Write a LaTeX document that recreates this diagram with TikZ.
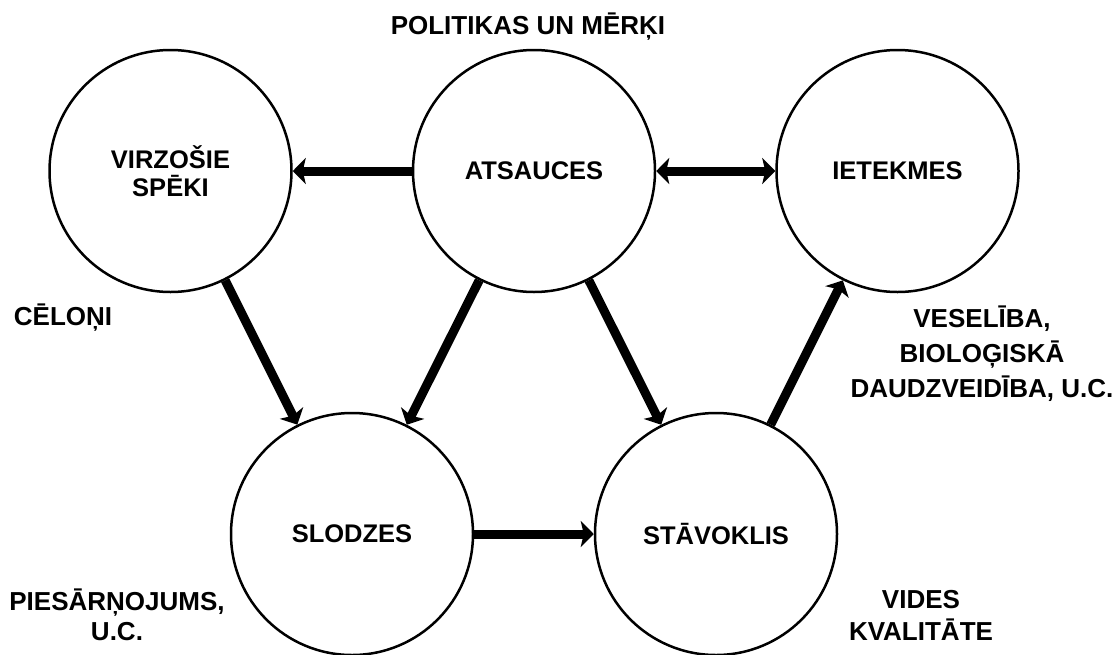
\documentclass[tikz,border=0pt]{standalone}
\usepackage{fontspec}
\setmainfont{Liberation Sans}
\usetikzlibrary{arrows.meta}
\begin{document}
\begin{tikzpicture}[x=1pt,y=-1pt,
  stage/.style={circle,draw,line width=2.5pt,minimum size=242pt,inner sep=0pt,
    align=center,font=\bfseries\fontsize{25.5}{28}\selectfont},
  note/.style={align=center,inner sep=0pt,anchor=base},
  flow/.style={line width=9pt,-{Stealth[length=13pt,width=26pt,inset=3pt]}},
  twoway/.style={line width=9pt,{Stealth[length=13pt,width=26pt,inset=3pt]}-{Stealth[length=13pt,width=26pt,inset=3pt]}}]
\useasboundingbox (0,0) rectangle (1117,654);

% DPSIR stages
\node[stage] (drv) at (170.5,171) {VIRZOŠIE\\SPĒKI};
\node[stage] (rsp) at (534,171) {ATSAUCES};
\node[stage] (imp) at (897.5,171) {IETEKMES};
\node[stage] (prs) at (352,534) {SLODZES};
\node[stage] (sta) at (716,534) {STĀVOKLIS};

% links between stages
\draw[flow] (rsp) -- (drv);
\draw[twoway] (rsp) -- (imp);
\draw[flow] (drv) -- (prs);
\draw[flow] (rsp) -- (prs);
\draw[flow] (rsp) -- (sta);
\draw[flow] (prs) -- (sta);
\draw[flow] (sta) -- (imp);

% side notes (anchored at the baseline of their last line)
\node[note,font=\bfseries\fontsize{26}{30}\selectfont] (pol) at (528,34) {POLITIKAS UN MĒRĶI};
\node[note,font=\bfseries\fontsize{26}{30}\selectfont] (cau) at (63,325) {CĒLOŅI};
\node[note,font=\bfseries\fontsize{26}{30}\selectfont] (pol2) at (117,640) {PIESĀRŅOJUMS,\\U.C.};
\node[note,font=\bfseries\fontsize{26}{32}\selectfont] (env) at (921,640) {VIDES\\KVALITĀTE};
\node[note,font=\bfseries\fontsize{26}{35}\selectfont] (hlt) at (982,397) {VESELĪBA,\\BIOLOĢISKĀ\\DAUDZVEIDĪBA, U.C.};
\end{tikzpicture}
\end{document}
